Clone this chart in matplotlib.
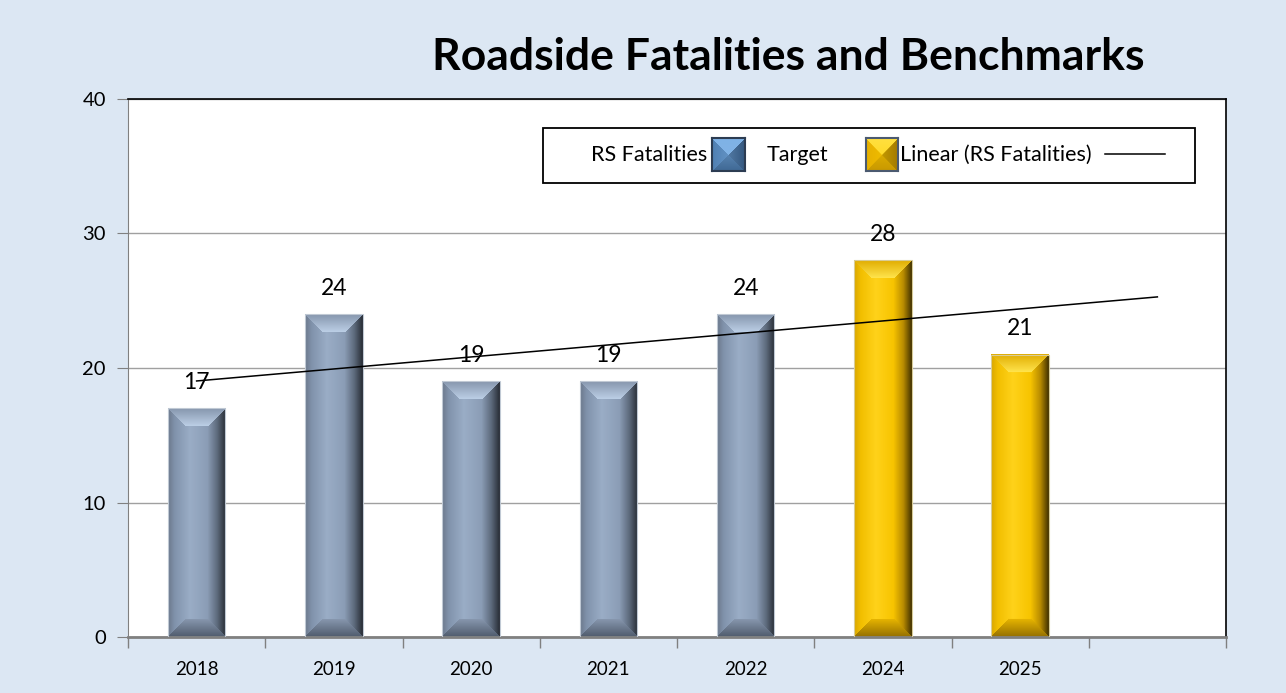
import numpy as np
import matplotlib.pyplot as plt
from matplotlib.patches import Rectangle
from matplotlib.lines import Line2D

plt.rcParams.update({
    'font.family': ['Lato', 'DejaVu Sans'],
    'font.size': 13,
})

# ---- data ----
years = ['2018', '2019', '2020', '2021', '2022', '2024', '2025']
fatalities = [17, 24, 19, 19, 24, 28, 21]
is_target = [False, False, False, False, False, True, True]
n_slots = 8  # one empty slot at the end (trend forecast)
legend_labels = ['RS Fatalities', 'Target', 'Linear (RS Fatalities)']

W, H = 1286, 693
BG = '#dce7f3'

# horizontal shading profiles (position, colour) for the bevelled bars
BLUE_PROFILE = [(0.0, '#6b788b'), (0.12, '#8193ac'), (0.38, '#9aadc6'),
                (0.68, '#8b9db6'), (0.85, '#5d6a7c'), (1.0, '#262b33')]
BLUE_TOP = ('#8595ac', '#bccfe6')
BLUE_BOT = ('#8797ae', '#4f5b6c')
GOLD_PROFILE = [(0.0, '#d8a600'), (0.12, '#f2bf00'), (0.38, '#ffd21a'),
                (0.68, '#f7c400'), (0.85, '#b98c00'), (1.0, '#3f3000')]
GOLD_TOP = ('#e0ac00', '#ffe44d')
GOLD_BOT = ('#e6b400', '#946f00')


def hex2rgb(h):
    h = h.lstrip('#')
    return np.array([int(h[i:i + 2], 16) / 255 for i in (0, 2, 4)])


def profile_colour(profile, t):
    xs = [p for p, _ in profile]
    cols = np.array([hex2rgb(c) for _, c in profile])
    return np.stack([np.interp(t, xs, cols[:, k]) for k in range(3)], axis=-1)


def bevel_texture(w_px, h_px, profile, top, bot, bevel=18):
    w_px, h_px = max(int(round(w_px)), 2), max(int(round(h_px)), 2)
    xx, yy = np.meshgrid(np.arange(w_px) + 0.5, np.arange(h_px) + 0.5)
    img = profile_colour(profile, xx / w_px)
    d_side = np.minimum(xx, w_px - xx)
    d_top, d_bot = yy, h_px - yy
    b = min(bevel, h_px / 2)
    top_mask = (d_top < b) & (d_top <= d_side)
    bot_mask = (d_bot < b) & (d_bot <= d_side)
    f = (d_top / b)[..., None]
    top_col = hex2rgb(top[0]) * (1 - f) + hex2rgb(top[1]) * f
    img = np.where(top_mask[..., None], top_col, img)
    f2 = (d_bot / b)[..., None]
    bot_col = hex2rgb(bot[1]) * (1 - f2) + hex2rgb(bot[0]) * f2
    img = np.where(bot_mask[..., None], bot_col, img)
    return np.clip(img, 0, 1)


def pyramid_texture(n, top, left, right, bottom, centre):
    xx, yy = np.meshgrid(np.arange(n) + 0.5, np.arange(n) + 0.5)
    d = {'top': yy, 'bottom': n - yy, 'left': xx, 'right': n - xx}
    stack = np.stack([d['top'], d['left'], d['right'], d['bottom']])
    idx = np.argmin(stack, axis=0)
    cols = np.array([hex2rgb(c) for c in (top, left, right, bottom)])
    img = cols[idx]
    # brighten towards the centre a little
    r = np.min(stack, axis=0) / (n / 2)
    img = img * (1 - 0.35 * r[..., None]) + hex2rgb(centre) * 0.35 * r[..., None]
    return np.clip(img, 0, 1)


def px_rect(x0, y0, x1, y1):
    """pixel box (top-left origin) -> figure fraction rect"""
    return [x0 / W, 1 - y1 / H, (x1 - x0) / W, (y1 - y0) / H]


fig = plt.figure(figsize=(W / 100, H / 100), dpi=100, facecolor=BG)
ax = fig.add_axes(px_rect(128, 99, 1226, 637))
ax.set_facecolor('white')

x = np.arange(len(years))
ax.set_xlim(-0.5, n_slots - 0.5)
ax.set_ylim(0, 40)

bars = ax.bar(x, fatalities, width=0.42, color='none', edgecolor='none', zorder=2)

# paint each bar with a bevelled texture
fig.canvas.draw()
for rect, tgt in zip(bars, is_target):
    x0, y0 = rect.get_x(), rect.get_y()
    w, h = rect.get_width(), rect.get_height()
    p0 = ax.transData.transform((x0, y0))
    p1 = ax.transData.transform((x0 + w, y0 + h))
    prof, top, bot = (GOLD_PROFILE, GOLD_TOP, GOLD_BOT) if tgt else (BLUE_PROFILE, BLUE_TOP, BLUE_BOT)
    tex = bevel_texture(p1[0] - p0[0], p1[1] - p0[1], prof, top, bot)
    ax.imshow(tex, extent=(x0, x0 + w, y0, y0 + h), aspect='auto', origin='upper',
              interpolation='bilinear', zorder=2)
    ax.add_patch(Rectangle((x0, y0), w, h, fill=False,
                           edgecolor='#d8cc99' if tgt else '#c0c9d4', lw=0.8, zorder=3))
    ax.annotate(f'{int(h)}', (x0 + w / 2, y0 + h), xytext=(0, 11), textcoords='offset points',
                ha='center', va='bottom', fontsize=16.5, color='black', zorder=5)
ax.set_xlim(-0.5, n_slots - 0.5)
ax.set_ylim(0, 40)

# linear trend over all bars, forecast one period forward
coef = np.polyfit(x, fatalities, 1)
xt = np.array([0, n_slots - 1])
ax.plot(xt, np.polyval(coef, xt), color='black', lw=1.1, zorder=4)

# grid / axes styling
ax.set_yticks([0, 10, 20, 30, 40])
ax.yaxis.grid(True, color='#a0a0a0', lw=1.0, zorder=0)
ax.set_axisbelow(True)
ax.tick_params(axis='y', length=8, color='#808080', labelsize=14.5, pad=8)
ax.set_xticks(x)
ax.set_xticklabels(years, fontsize=13.5)
ax.set_xticks(np.arange(n_slots + 1) - 0.5, minor=True)
ax.tick_params(axis='x', which='major', length=0, pad=17)
ax.tick_params(axis='x', which='minor', length=8, color='#808080', width=1)
for side in ('top', 'right'):
    ax.spines[side].set_color('black')
    ax.spines[side].set_linewidth(1.2)
ax.spines['left'].set_color('#808080')
ax.spines['bottom'].set_color('#808080')
ax.spines['bottom'].set_linewidth(2)

# legend drawn Excel-style (text before key), placed in pixels
fig.patches.append(Rectangle((543 / W, 1 - 183 / H), (1195 - 543) / W, 55 / H,
                             transform=fig.transFigure, facecolor='white',
                             edgecolor='black', lw=1.3, zorder=5))
ty = 1 - 155 / H
for lbl, lx in zip(legend_labels, [591, 767, 900]):
    fig.text(lx / W, ty, lbl, ha='left', va='center', fontsize=15.5, zorder=6)
keys = [
    (px_rect(712, 138, 745, 171), pyramid_texture(33, '#7fb2e6', '#4f7fb2', '#34577f', '#3f6894', '#86b6e6'), '#2c3c52'),
    (px_rect(866, 138, 898, 171), pyramid_texture(33, '#ffe040', '#e6b000', '#a27a00', '#c89800', '#ffd000'), '#4b5a70'),
]
for rect, tex, ec in keys:
    kax = fig.add_axes(rect, zorder=7)
    kax.imshow(tex, aspect='auto', interpolation='bilinear')
    kax.set_xticks([])
    kax.set_yticks([])
    for s in kax.spines.values():
        s.set_color(ec)
        s.set_linewidth(1.5)
fig.lines.append(Line2D([1105 / W, 1165 / W], [1 - 154 / H] * 2, transform=fig.transFigure,
                        color='black', lw=1.1, zorder=6))

fig.text(788 / W, 1 - 57 / H, 'Roadside Fatalities and Benchmarks', ha='center', va='center',
         fontsize=32, fontweight='bold', color='black')

fig.savefig('out.png', dpi=100, facecolor=BG)
